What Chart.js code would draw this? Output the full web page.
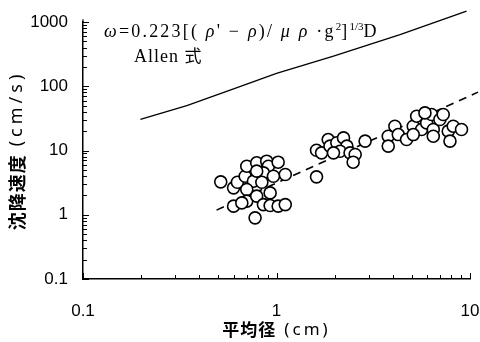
<!DOCTYPE html>
<html>
<head>
<meta charset="utf-8">
<script src="https://cdn.jsdelivr.net/npm/chart.js@4.4.0/dist/chart.umd.min.js"></script>
<style>
  html, body { margin: 0; padding: 0; background: #fff; }
</style>
</head>
<body>
<canvas id="settleChart" width="480" height="342"></canvas>
<script>
// Allen equation (solid line)
const allenX = [0.198, 0.344, 0.60, 1.0, 1.97, 4.35, 9.6];
const allenY = [30.4, 50.1, 91, 158, 294, 638, 1473];

// fitted trend (dashed line)
const fitX = [0.49, 11];
const fitY = [1.18, 81];

// measured settling velocity vs mean diameter
const measX = [
  0.515, 0.60, 0.628, 0.689, 0.702, 0.79, 0.89, 0.908, 0.856, 0.76, 0.84, 0.702,
  0.702, 0.79, 0.927, 0.60, 0.662, 0.856, 0.927, 1.02, 1.11, 0.775, 1.02, 1.11, 0.964, 0.79,
  1.61, 1.61, 1.71, 1.85, 1.89, 2.05, 2.22, 2.31, 2.13, 2.40, 2.55, 2.49, 1.97, 2.87,
  3.78, 3.78, 4.09, 4.26, 4.70, 5.09, 5.30, 5.62, 5.97, 6.33, 6.46, 6.46, 6.99, 7.27,
  7.72, 7.88, 8.19, 9.04, 5.85, 5.09
];
const measY = [
  3.25, 2.62, 3.21, 3.98, 5.7, 6.43, 6.82, 5.7, 4.49, 3.33, 3.21, 2.47,
  1.63, 1.95, 2.19, 1.36, 1.53, 1.44, 1.39, 1.36, 1.44, 0.895, 6.58, 4.23, 3.98, 4.77,
  3.89, 10.1, 9.2, 14.8, 11.7, 13.2, 15.7, 11.7, 9.75, 9.2, 8.66, 6.58, 9.2, 14.0,
  16.7, 11.7, 23.9, 17.7, 14.8, 23.9, 34.2, 21.2, 26.9, 36.3, 21.2, 16.7, 30.4, 36.3,
  20.0, 14.0, 23.9, 21.2, 38.5, 17.7
];

const xTicks = [0.1, 1, 10];
const yTicks = [0.1, 1, 10, 100, 1000];
const xTitle = ['平均径', '(cm)'];
const yTitle = ['沈降速度', '(cm/s)'];

const toPoints = (xs, ys) => xs.map((x, i) => ({ x: x, y: ys[i] }));

// 1..9 x 10^n between lo and hi, for the small inward tick marks
function logMarks(lo, hi) {
  const out = [];
  for (let e = Math.round(Math.log10(lo)); Math.pow(10, e) <= hi * 1.001; e++) {
    for (let m = 1; m <= 9; m++) {
      const v = m * Math.pow(10, e);
      if (v >= lo * 0.999 && v <= hi * 1.001) out.push(v);
    }
  }
  return out;
}

const CJK = '"Noto Sans CJK JP", sans-serif';
const SANS = '"Noto Sans", "Liberation Sans", sans-serif';

// draws [cjk, latin] pieces centred on (0,0) of the current transform
function drawTitle(ctx, pieces, size, gap, spacing) {
  ctx.font = 'bold ' + size + 'px ' + CJK;
  ctx.letterSpacing = '1px';
  const w1 = ctx.measureText(pieces[0]).width;
  ctx.font = size + 'px ' + SANS;
  ctx.letterSpacing = spacing + 'px';
  const w2 = ctx.measureText(pieces[1]).width;
  let x = -(w1 + gap + w2) / 2;
  ctx.font = 'bold ' + size + 'px ' + CJK;
  ctx.letterSpacing = '1px';
  ctx.fillText(pieces[0], x, 0);
  x += w1 + gap;
  ctx.font = size + 'px ' + SANS;
  ctx.letterSpacing = spacing + 'px';
  ctx.fillText(pieces[1], x, 0);
}

const extras = {
  id: 'extras',
  afterDraw(chart) {
    const ctx = chart.ctx;
    const xs = chart.scales.x, ys = chart.scales.y;
    const area = chart.chartArea;
    ctx.save();
    ctx.strokeStyle = '#000';
    ctx.lineWidth = 1;
    ctx.beginPath();
    logMarks(0.1, 10).forEach(v => {
      const px = Math.round(xs.getPixelForValue(v)) + 0.5;
      const len = xTicks.includes(v) ? 6 : 4;
      ctx.moveTo(px, area.bottom);
      ctx.lineTo(px, area.bottom - len);
    });
    logMarks(0.1, 1000).forEach(v => {
      const py = Math.round(ys.getPixelForValue(v)) + 0.5;
      const len = yTicks.includes(v) ? 6 : 4;
      ctx.moveTo(area.left, py);
      ctx.lineTo(area.left + len, py);
    });
    // axis line runs a little past the 1000 tick
    ctx.moveTo(area.left, area.top);
    ctx.lineTo(area.left, area.top - 3);
    ctx.stroke();

    ctx.fillStyle = '#000';
    ctx.textBaseline = 'middle';
    // axis titles
    ctx.save();
    ctx.translate((area.left + area.right) / 2, 330);
    drawTitle(ctx, xTitle, 17, 8, 3);
    ctx.restore();
    ctx.save();
    ctx.translate(17, (area.top + area.bottom) / 2);
    ctx.rotate(-Math.PI / 2);
    drawTitle(ctx, yTitle, 18, 8, 4);
    ctx.restore();

    // formula text
    const serif = '"Liberation Serif", "DejaVu Serif", serif';
    const parts = [
      { t: 'ω', it: true }, { t: '=0.223[( ' }, { t: 'ρ', it: true }, { t: '\' − ' },
      { t: 'ρ', it: true }, { t: ')/ ' }, { t: 'μ ρ', it: true }, { t: ' ·g' },
      { t: '2', sup: true }, { t: ']' }, { t: '1/3', sup: true }, { t: 'D' }
    ];
    let x = 104;
    const base = 37;
    ctx.textBaseline = 'alphabetic';
    parts.forEach(p => {
      ctx.letterSpacing = p.sup ? '0px' : '2.2px';
      ctx.font = (p.it ? 'italic ' : '') + (p.sup ? 11 : 18) + 'px ' + serif;
      ctx.fillText(p.t, x, p.sup ? base - 7 : base);
      x += ctx.measureText(p.t).width;
    });
    ctx.letterSpacing = '1px';
    ctx.font = '18px ' + serif;
    ctx.fillText('Allen ', 134, 62);
    const w = ctx.measureText('Allen ').width;
    ctx.letterSpacing = '0px';
    ctx.font = '17px ' + CJK;
    ctx.fillText('式', 134 + w, 62);
    ctx.restore();
  }
};

const tickFont = { family: '"Liberation Sans", Arial, sans-serif', size: 17 };

new Chart(document.getElementById('settleChart'), {
  type: 'scatter',
  data: {
    datasets: [
      {
        label: 'measured',
        data: toPoints(measX, measY),
        pointRadius: 6,
        pointHoverRadius: 6,
        borderWidth: 1.6,
        borderColor: '#000',
        backgroundColor: '#fff'
      },
      {
        label: 'fit',
        type: 'line',
        data: toPoints(fitX, fitY),
        borderColor: '#000',
        borderWidth: 1.6,
        borderDash: [8, 6],
        pointRadius: 0,
        fill: false,
        clip: false
      },
      {
        label: 'Allen',
        type: 'line',
        data: toPoints(allenX, allenY),
        borderColor: '#000',
        borderWidth: 1.3,
        pointRadius: 0,
        fill: false,
        clip: false
      }
    ]
  },
  options: {
    responsive: false,
    animation: false,
    devicePixelRatio: 1,
    layout: { padding: { left: 0, right: 10, top: 22, bottom: 0 } },
    plugins: { legend: { display: false }, tooltip: { enabled: false } },
    scales: {
      x: {
        type: 'logarithmic',
        position: 'bottom',
        min: 0.1,
        max: 10,
        afterBuildTicks: s => { s.ticks = xTicks.map(v => ({ value: v })); },
        afterFit: s => { s.height = 63; },
        // tick marks are hidden, their length only spaces the labels
        grid: { display: false, drawTicks: true, tickLength: 22 },
        border: { display: true, color: '#000', width: 1.5 },
        ticks: {
          color: '#000', font: tickFont, padding: 0, maxRotation: 0, autoSkip: false,
          callback: v => String(v)
        }
      },
      y: {
        type: 'logarithmic',
        min: 0.1,
        max: 1000,
        afterBuildTicks: s => { s.ticks = yTicks.map(v => ({ value: v })); },
        afterFit: s => { s.width = 83; },
        grid: { display: false, drawTicks: true, tickLength: 15 },
        border: { display: true, color: '#000', width: 1.5 },
        ticks: {
          color: '#000', font: tickFont, padding: 0, autoSkip: false,
          callback: v => String(v)
        }
      }
    }
  },
  plugins: [extras]
});
</script>
</body>
</html>
